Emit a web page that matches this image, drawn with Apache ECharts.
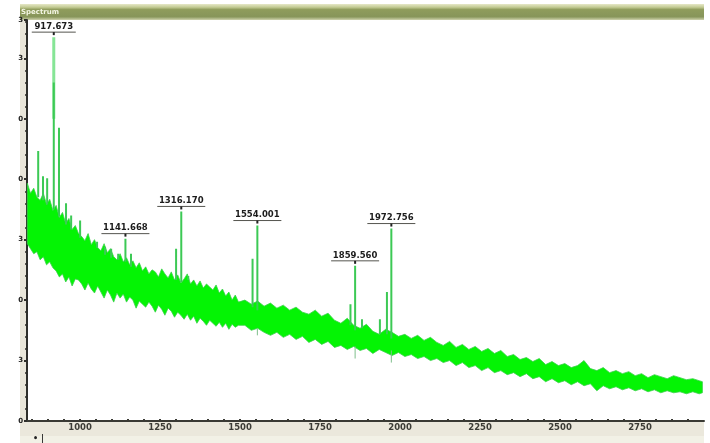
<!DOCTYPE html>
<html><head><meta charset="utf-8">
<style>html,body{margin:0;padding:0;background:#fff}#c{width:710px;height:443px;filter:blur(0.5px)}</style>
<script src="https://cdn.jsdelivr.net/npm/echarts@6/dist/echarts.min.js"></script>
</head><body><div id="c"></div>
<script>
const bandMz = [835,845,855,865,875,885,895,905,915,925,
935,945,955,965,975,985,995,1005,1015,1025,
1035,1045,1055,1065,1075,1085,1095,1105,1115,1125,
1135,1145,1155,1165,1175,1185,1195,1205,1215,1225,
1235,1245,1255,1265,1275,1285,1295,1305,1315,1325,
1335,1345,1355,1365,1375,1385,1395,1405,1415,1425,
1435,1445,1455,1465,1475,1485,1495,
1515,1535,1555,1575,1595,1615,1635,1655,1675,1695,
1715,1735,1755,1775,1795,1815,1835,1855,1875,1895,
1915,1935,1955,1975,1995,2015,2035,2055,2075,2095,
2115,2135,2155,2175,2195,2215,2235,2255,2275,2295,
2315,2335,2355,2375,2395,2415,2435,2455,2475,2495,
2515,2535,2555,2575,2595,2615,2635,2655,2675,2695,
2715,2735,2755,2775,2795,2815,2835,2855,2875,2895,
2915,2935,2945];
const bandUpper = [236,226,231,222,219,226,215,220,209,214,
202,207,196,201,190,194,186,183,179,186,
175,180,172,169,176,167,171,163,160,166,
158,162,155,159,152,157,149,153,146,150,
148,143,151,146,142,148,140,145,137,141,
146,136,140,134,139,132,136,133,130,135,
127,131,124,128,120,125,118,
120,116,119,114,117,112,115,110,113,108,
106,110,104,107,100,97,102,95,92,96,
89,86,91,88,84,86,82,85,80,83,
78,75,79,73,76,71,74,69,72,67,
70,64,66,61,63,59,62,56,59,55,
57,53,55,60,52,50,53,48,50,47,
49,45,47,43,46,44,42,45,43,41,
42,40,39];
const bandLower = [176,171,166,168,160,163,155,158,152,149,
143,146,138,143,134,141,140,136,130,137,
131,127,134,128,122,130,125,118,127,122,
126,118,123,120,112,119,116,113,118,114,
108,115,111,105,112,109,103,108,105,101,
106,100,104,97,102,99,95,100,97,94,
98,93,97,91,96,93,95,
95,90,92,88,85,88,83,86,81,84,
78,81,76,79,73,75,71,74,70,72,
67,71,68,65,68,64,66,62,64,60,
62,58,60,55,58,53,55,50,53,48,
50,46,48,44,47,42,44,39,42,38,
40,36,39,35,37,30,35,32,34,31,
33,30,32,29,31,28,30,28,29,27,
29,27,28];
const peakMz =   [869,884,897,917.673,934,956,972,1000,1053,1078,1097,1119,1141.668,1159,1300,1316.17,1338,1539,1554.001,1845,1859.56,1881,1937,1959,1972.756];
const peakBase = [222,219,215,210,203,195,190,182,172,165,162,160,158,153,140,138,140,113,110,95,90,92,86,86,82];
const peakTop =  [268,243,241,336,291,216,204,199,178,173,171,166,181,166,171,208,144,161,194,116,154,101,101,128,191];
const faintMz = [917.673];
const faintBase = [300];
const faintTop = [381];
const dipMz = [1554.001,1859.56,1972.756];
const dipTop = [92,74,70];
const dipBottom = [85,62,58];
const labelMz = [917.673,1141.668,1316.17,1554.001,1859.56,1972.756];
const labelTop = [381,181,208,194,154,191];
const labelText = ['917.673','1141.668','1316.170','1554.001','1859.560','1972.756'];
const xTickLabels = [1000,1250,1500,1750,2000,2250,2500,2750];
const xTicks = [850,900,950,1000,1050,1100,1150,1200,1250,1300,1350,1400,1450,1500,1550,1600,1650,1700,1750,1800,1850,1900,1950,2000,2050,2100,2150,2200,2250,2300,2350,2400,2450,2500,2550,2600,2650,2700,2750,2800,2850,2900];
const yTickLabels = ['0','3','0','3','0','0','3','3'];
const titleText = 'Spectrum';
const footText = '\u2022 |';

function segs(x,a,b){const o=[];x.forEach((m,i)=>{o.push([m,a[i]],[m,b[i]],[null,null]);});return o;}
const chart = echarts.init(document.getElementById('c'),null,{renderer:'canvas'});
chart.setOption({
 animation:false,
 backgroundColor:'#fff',
 grid:{left:27,right:6,top:20,bottom:22},
 xAxis:{type:'value',min:834,max:2950,
  axisLine:{onZero:false,lineStyle:{color:'#3a3a34',width:2}},
  axisTick:{customValues:xTicks,length:2,inside:true,lineStyle:{color:'#3a3a34',width:2}},
  axisLabel:{customValues:xTickLabels,margin:2,color:'#3c3c36',fontFamily:'DejaVu Sans',fontSize:8.5,fontWeight:'bold',hideOverlap:false,formatter:v=>String(v)},
  splitLine:{show:false}},
 yAxis:{type:'value',min:0,max:398,interval:60,
  axisLine:{show:true,lineStyle:{color:'#2e2e2a',width:2}},
  axisTick:{show:true,length:3,lineStyle:{color:'#2e2e2a',width:2}},
  minorTick:{show:true,splitNumber:5,length:2,lineStyle:{color:'#2e2e2a',width:1.5}},
  axisLabel:{margin:4,color:'#222',fontFamily:'DejaVu Sans',fontSize:7,fontWeight:'bold',formatter:(v,i)=>yTickLabels[i]||''},
  splitLine:{show:false}},
 graphic:[
  {type:'rect',silent:true,z:0,shape:{x:20,y:4,width:684,height:16},style:{fill:new echarts.graphic.LinearGradient(0,0,0,1,[{offset:0,color:'#e6e8c8'},{offset:0.2,color:'#c3cb94'},{offset:0.35,color:'#8f9c5c'},{offset:0.8,color:'#87955a'},{offset:1,color:'#cfd3ae'}])}},
  {type:'rect',silent:true,z:0,shape:{x:20,y:20,width:7,height:403},style:{fill:'#e9e6d9'}},
  {type:'rect',silent:true,z:0,shape:{x:20,y:421,width:684,height:15},style:{fill:'#ebe8dc'}},
  {type:'rect',silent:true,z:0,shape:{x:20,y:436,width:684,height:7},style:{fill:'#f2f1e6'}},
  {type:'text',silent:true,z:1,style:{x:21,y:9,text:titleText,fill:'#f4f6e4',font:'bold 7px "DejaVu Sans"'}},
  {type:'text',silent:true,z:1,style:{x:33,y:435,text:footText,fill:'#222',font:'bold 8px "DejaVu Sans"'}}
 ],
 series:[
  {type:'custom',silent:true,z:2,data:[[bandMz[0],bandUpper[0]]],
   renderItem:(p,api)=>{
    const pts=[];
    bandMz.forEach((m,i)=>pts.push(api.coord([m,bandUpper[i]])));
    for(let i=bandMz.length-1;i>=0;i--)pts.push(api.coord([bandMz[i],bandLower[i]]));
    return {type:'polygon',shape:{points:pts},style:{fill:'#04f404',stroke:'#3ad04a',lineWidth:0.8}};
   }},
  {type:'line',z:3,symbol:'none',silent:true,connectNulls:false,lineStyle:{width:3,color:'#86e596',cap:'butt'},data:segs(faintMz,faintBase,faintTop)},
  {type:'line',z:3,symbol:'none',silent:true,connectNulls:false,lineStyle:{width:2,color:'#3cc955',cap:'butt'},data:segs(peakMz,peakBase,peakTop)},
  {type:'line',z:3,symbol:'none',silent:true,connectNulls:false,lineStyle:{width:1,color:'#7fbf8c',cap:'butt'},data:segs(dipMz,dipTop,dipBottom)},
  {type:'custom',silent:true,clip:false,z:5,data:labelMz.map((m,i)=>[m,labelTop[i],labelText[i]]),
   renderItem:(p,api)=>{const c=api.coord([api.value(0),api.value(1)]);const t=labelText[p.dataIndex];
    const hw=t.length>7?24:22;
    return {type:'group',children:[
     {type:'text',style:{x:c[0],y:c[1]-10.5,text:t,fill:'#1c1c1c',font:'bold 8.5px "DejaVu Sans"',align:'center',verticalAlign:'middle'}},
     {type:'line',shape:{x1:c[0]-hw,y1:c[1]-5,x2:c[0]+hw,y2:c[1]-5},style:{stroke:'#55554f',lineWidth:1}},
     {type:'rect',shape:{x:c[0]-1,y:c[1]-5,width:2,height:3},style:{fill:'#222'}}
    ]};}}
 ]
});
</script></body></html>
